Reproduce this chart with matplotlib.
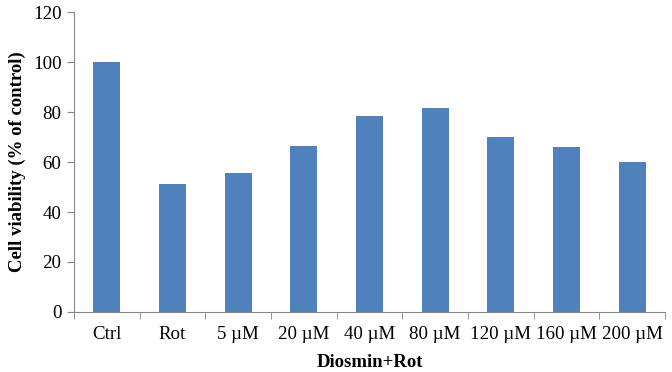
import numpy as np
import matplotlib.pyplot as plt

plt.rcParams['font.family'] = ['Liberation Serif', 'DejaVu Serif']

# groups and viability values (% of control)
groups = ['Ctrl', 'Rot', '5 µM', '20 µM', '40 µM', '80 µM', '120 µM', '160 µM', '200 µM']
viability = [100, 51.2, 55.7, 66.3, 78.5, 81.7, 70, 65.9, 60]

fig = plt.figure(figsize=(6.72, 3.72), dpi=100)
ax = fig.add_axes([74 / 672, 1 - 312 / 372, 591 / 672, 300 / 372])

x = np.arange(len(groups))
ax.bar(x, viability, width=0.41, color='#4F81BD')

ax.set_xlim(-0.5, len(groups) - 0.5)
ax.set_ylim(0, 120)
ax.set_yticks(range(0, 121, 20))
ax.set_xticks(x)
ax.set_xticklabels(groups)
# category boundary ticks like Excel
ax.set_xticks(np.arange(-0.5, len(groups), 1), minor=True)
ax.tick_params(axis='x', which='major', length=0, pad=10, labelsize=13.6)
ax.tick_params(axis='x', which='minor', length=5, color='#868686', direction='out')
ax.tick_params(axis='y', length=5, color='#868686', labelsize=13.6, pad=4)

for s in ['top', 'right']:
    ax.spines[s].set_visible(False)
for s in ['left', 'bottom']:
    ax.spines[s].set_color('#868686')

ax.set_ylabel('Cell viability (% of control)', fontsize=13.5, fontweight='bold', labelpad=5)
ax.set_xlabel('Diosmin+Rot', fontsize=13.5, fontweight='bold', labelpad=8)

fig.savefig('out.png', dpi=100)
